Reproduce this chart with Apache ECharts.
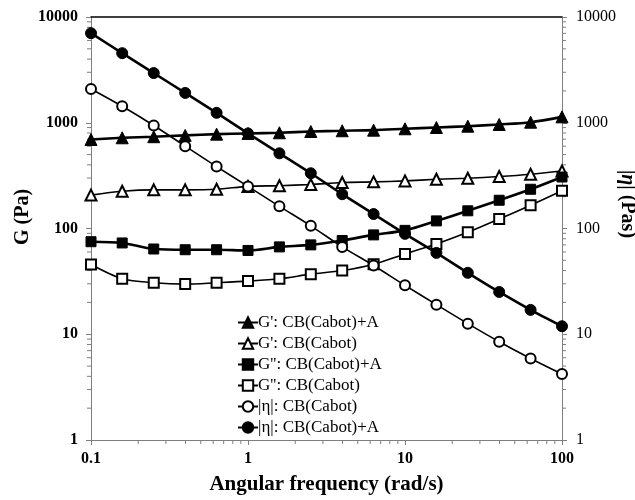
<!DOCTYPE html>
<html>
<head>
<meta charset="utf-8">
<script src="https://cdn.jsdelivr.net/npm/echarts@6/dist/echarts.min.js"></script>
<style>html,body{margin:0;padding:0;background:#fff;}#c{width:635px;height:500px;}</style>
</head>
<body>
<div id="c"></div>
<script>
var freq = [0.1, 0.158, 0.251, 0.398, 0.631, 1, 1.585, 2.512, 3.981, 6.31, 10, 15.85, 25.12, 39.81, 63.1, 100];
var gpA   = [695, 721, 738, 759, 780, 792, 804, 827, 840, 851, 877, 902, 928, 963, 1012, 1137];
var gpCB  = [207, 225, 232, 232, 235, 250, 254, 261, 272, 276, 282, 292, 299, 310, 326, 350];
var gppA  = [75, 73, 64, 63, 63, 62, 67, 70, 77, 87, 96, 118, 147, 185, 235, 307];
var gppCB = [45.6, 33.5, 30.7, 29.8, 30.7, 31.8, 33.5, 37, 40, 46, 57.5, 71.5, 92, 123, 166, 227];
var etaCB = [2086, 1432, 942, 601, 385, 250, 162, 106, 67, 44.7, 29, 19.05, 12.6, 8.5, 5.9, 4.2];
var etaA  = [7030, 4550, 2950, 1914, 1241, 792, 514, 333, 211, 137, 89, 58.8, 38.1, 25.1, 17, 11.9];
var names = ["G': CB(Cabot)+A", "G': CB(Cabot)", "G'': CB(Cabot)+A", "G'': CB(Cabot)", "|\u03b7|: CB(Cabot)", "|\u03b7|: CB(Cabot)+A"];
var xTickLabels = ['0.1', '1', '10', '100'];
var yTickLabels = ['1', '10', '100', '1000', '10000'];
var minorFactors = [2, 3, 4, 5, 6, 7, 8, 9];
var xDecades = [0.1, 1, 10];
var yDecades = [1, 10, 100, 1000];

function pairs(ys) { return freq.map(function (x, i) { return [x, ys[i]]; }); }

var minorData = [];
xDecades.forEach(function (d) { minorFactors.forEach(function (f) { minorData.push([+(d * f).toPrecision(6), 0]); }); });
yDecades.forEach(function (d) { minorFactors.forEach(function (f) { minorData.push([+(d * f).toPrecision(6), 1]); }); });

var SERIF = '"Liberation Serif", "Times New Roman", serif';
var AX = '#7f7f7f';

function lineSeries(name, data, symbol, size, width, yIdx) {
  return {
    name: name, type: 'line', data: pairs(data), yAxisIndex: yIdx || 0,
    smooth: 0.3, symbol: symbol, symbolSize: size, showSymbol: true,
    lineStyle: { color: '#000', width: width },
    itemStyle: { color: '#000', borderColor: '#000', borderWidth: 1 },
    emphasis: { disabled: true }, z: 3
  };
}

var chart = echarts.init(document.getElementById('c'), null, { renderer: 'canvas' });
chart.setOption({
  animation: false,
  backgroundColor: '#fff',
  grid: { left: 91, right: 73, top: 17, bottom: 58, containLabel: false },
  legend: {
    data: names, orient: 'vertical', left: 232, top: 309,
    itemWidth: 20, itemHeight: 13, itemGap: 4,
    textStyle: { fontFamily: SERIF, fontSize: 17, color: '#000', lineHeight: 17, padding: [0, 0, 0, -5] },
    selectedMode: false
  },
  xAxis: [{
    type: 'log', logBase: 10, min: 0.1, max: 100,
    name: 'Angular frequency (rad/s)', nameLocation: 'middle', nameGap: 34,
    nameTextStyle: { fontFamily: SERIF, fontSize: 21, fontWeight: 'bold', color: '#000' },
    axisLine: { lineStyle: { color: AX, width: 1 } },
    axisTick: { show: true, inside: false, length: 5, lineStyle: { color: AX } },
    axisLabel: { fontFamily: SERIF, fontSize: 16, fontWeight: 'bold', color: '#000', margin: 11,
      formatter: function (v) { var s = String(+(+v).toPrecision(6)); return xTickLabels.indexOf(s) >= 0 ? s : ''; } },
    splitLine: { show: false }
  }, {
    type: 'log', logBase: 10, min: 0.1, max: 100, position: 'top',
    axisLine: { lineStyle: { color: '#000', width: 1.5 } },
    axisTick: { show: false }, axisLabel: { show: false }, splitLine: { show: false }
  }],
  yAxis: [{
    type: 'log', logBase: 10, min: 1, max: 10000, position: 'left',
    axisLine: { show: true, lineStyle: { color: AX, width: 1 } },
    axisTick: { show: true, inside: false, length: 5, lineStyle: { color: AX } },
    axisLabel: { fontFamily: SERIF, fontSize: 16, fontWeight: 'bold', color: '#000', margin: 13,
      formatter: function (v) { var s = String(+(+v).toPrecision(6)); return yTickLabels.indexOf(s) >= 0 ? s : ''; } },
    splitLine: { show: false }
  }, {
    type: 'log', logBase: 10, min: 1, max: 10000, position: 'right',
    axisLine: { show: true, lineStyle: { color: AX, width: 1 } },
    axisTick: { show: true, inside: false, length: 5, lineStyle: { color: AX } },
    axisLabel: { fontFamily: SERIF, fontSize: 16, color: '#000', margin: 14,
      formatter: function (v) { var s = String(+(+v).toPrecision(6)); return yTickLabels.indexOf(s) >= 0 ? s : ''; } },
    splitLine: { show: false }
  }],
  graphic: [{
    type: 'text', x: 23, y: 217, rotation: Math.PI / 2,
    style: { text: 'G (Pa)', font: 'bold 20px ' + SERIF, fill: '#000', align: 'center', verticalAlign: 'middle' }
  }, {
    type: 'text', x: 627, y: 204, rotation: -Math.PI / 2,
    style: { text: '|{i|\u03b7}| (Pas)', font: 'bold 20px ' + SERIF, fill: '#000', align: 'center', verticalAlign: 'middle',
      rich: { i: { font: 'italic bold 20px ' + SERIF, fill: '#000' } } }
  }],
  series: [
    lineSeries(names[0], gpA, 'triangle', 12, 2.6),
    lineSeries(names[1], gpCB, 'emptyTriangle', 11, 1.6),
    lineSeries(names[2], gppA, 'rect', 10, 2.6),
    lineSeries(names[3], gppCB, 'emptyRect', 10, 1.6),
    lineSeries(names[4], etaCB, 'emptyCircle', 10, 1.6, 1),
    lineSeries(names[5], etaA, 'circle', 11, 2.6, 1),
    {
      type: 'custom', name: 'minorTicks', data: minorData, silent: true, z: 1,
      renderItem: function (params, api) {
        var v = api.value(0), kind = api.value(1);
        var style = { stroke: AX, lineWidth: 1 };
        if (kind === 0) {
          var p = api.coord([v, 1]);
          return { type: 'line', shape: { x1: p[0], y1: p[1], x2: p[0], y2: p[1] + 4 }, style: style };
        }
        var l = api.coord([0.1, v]), r = api.coord([100, v]);
        return { type: 'group', children: [
          { type: 'line', shape: { x1: l[0], y1: l[1], x2: l[0] - 4, y2: l[1] }, style: style },
          { type: 'line', shape: { x1: r[0], y1: r[1], x2: r[0] + 4, y2: r[1] }, style: style }
        ] };
      }
    }
  ]
});
</script>
</body>
</html>
